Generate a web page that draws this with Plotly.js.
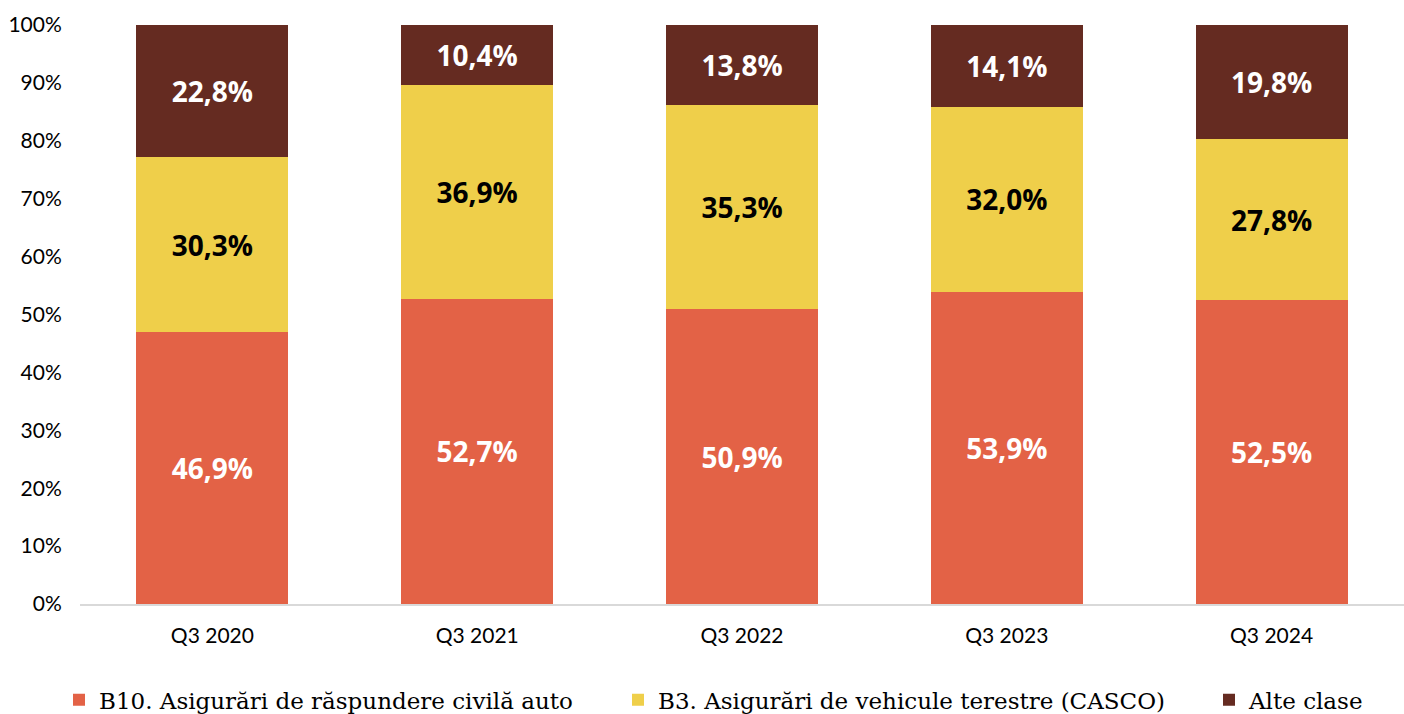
<!DOCTYPE html>
<html><head><meta charset="utf-8">
<script src="https://cdn.plot.ly/plotly-3.0.1.min.js"></script>
<style>html,body{margin:0;padding:0;background:#fff}#chart{width:1404px;height:714px}</style>
</head><body><div id="chart"></div>
<script>
const categories = ['Q3 2020','Q3 2021','Q3 2022','Q3 2023','Q3 2024'];
const seriesNames = ['B10. Asigurări de răspundere civilă auto','B3. Asigurări de vehicule terestre (CASCO)','Alte clase'];
const rcaValues = [46.9, 52.7, 50.9, 53.9, 52.5];
const cascoValues = [30.3, 36.9, 35.3, 32.0, 27.8];
const alteValues = [22.8, 10.4, 13.8, 14.1, 19.8];
const yTicks = [0,10,20,30,40,50,60,70,80,90,100];
const yTickLabels = ['0%','10%','20%','30%','40%','50%','60%','70%','80%','90%','100%'];

const colors = ['#E36246','#EFCF4A','#652B21'];
const textColors = ['#ffffff','#000000','#ffffff'];
const vals = [rcaValues, cascoValues, alteValues];
const legendIds = ['legend','legend2','legend3'];
const legendX = [59/1404, 618/1404, 1209/1404];

const traces = vals.map((v,i)=>({
  type:'bar', x:categories, y:v, name:seriesNames[i], legend:legendIds[i],
  marker:{color:colors[i]},
  texttemplate:'<b>%{y:.1f}%</b>', textposition:'inside', insidetextanchor:'middle',
  textangle:0, constraintext:'none',
  insidetextfont:{family:'Open Sans, sans-serif', size:28, color:textColors[i]},
  hoverinfo:'skip'
}));

const layout = {
  width:1404, height:714, barmode:'stack', bargap:0.426,
  separators:',.',
  margin:{l:80, r:0, t:25, b:110},
  paper_bgcolor:'#fff', plot_bgcolor:'#fff',
  font:{family:'Lato, sans-serif', color:'#000'},
  xaxis:{showline:true, linecolor:'#d9d9d9', linewidth:1.5, ticks:'', ticklabelstandoff:12, tickfont:{family:'Lato, sans-serif', size:21, color:'#000'}, showgrid:false},
  yaxis:{range:[0,100], tickmode:'array', tickvals:yTicks, ticktext:yTickLabels, showgrid:false, zeroline:false, showline:false, ticks:'outside', ticklen:13, tickcolor:'rgba(0,0,0,0)', tickfont:{family:'Lato, sans-serif', size:21, color:'#000'}},
  showlegend:true
};
legendIds.forEach((id,i)=>{
  layout[id] = {orientation:'h', xref:'container', x:legendX[i], xanchor:'left', yref:'container', y:0.02, yanchor:'middle',
    font:{family:'DejaVu Serif, serif', size:23, color:'#000'}, bgcolor:'rgba(0,0,0,0)'};
});
Plotly.newPlot('chart', traces, layout, {staticPlot:true});
</script></body></html>
